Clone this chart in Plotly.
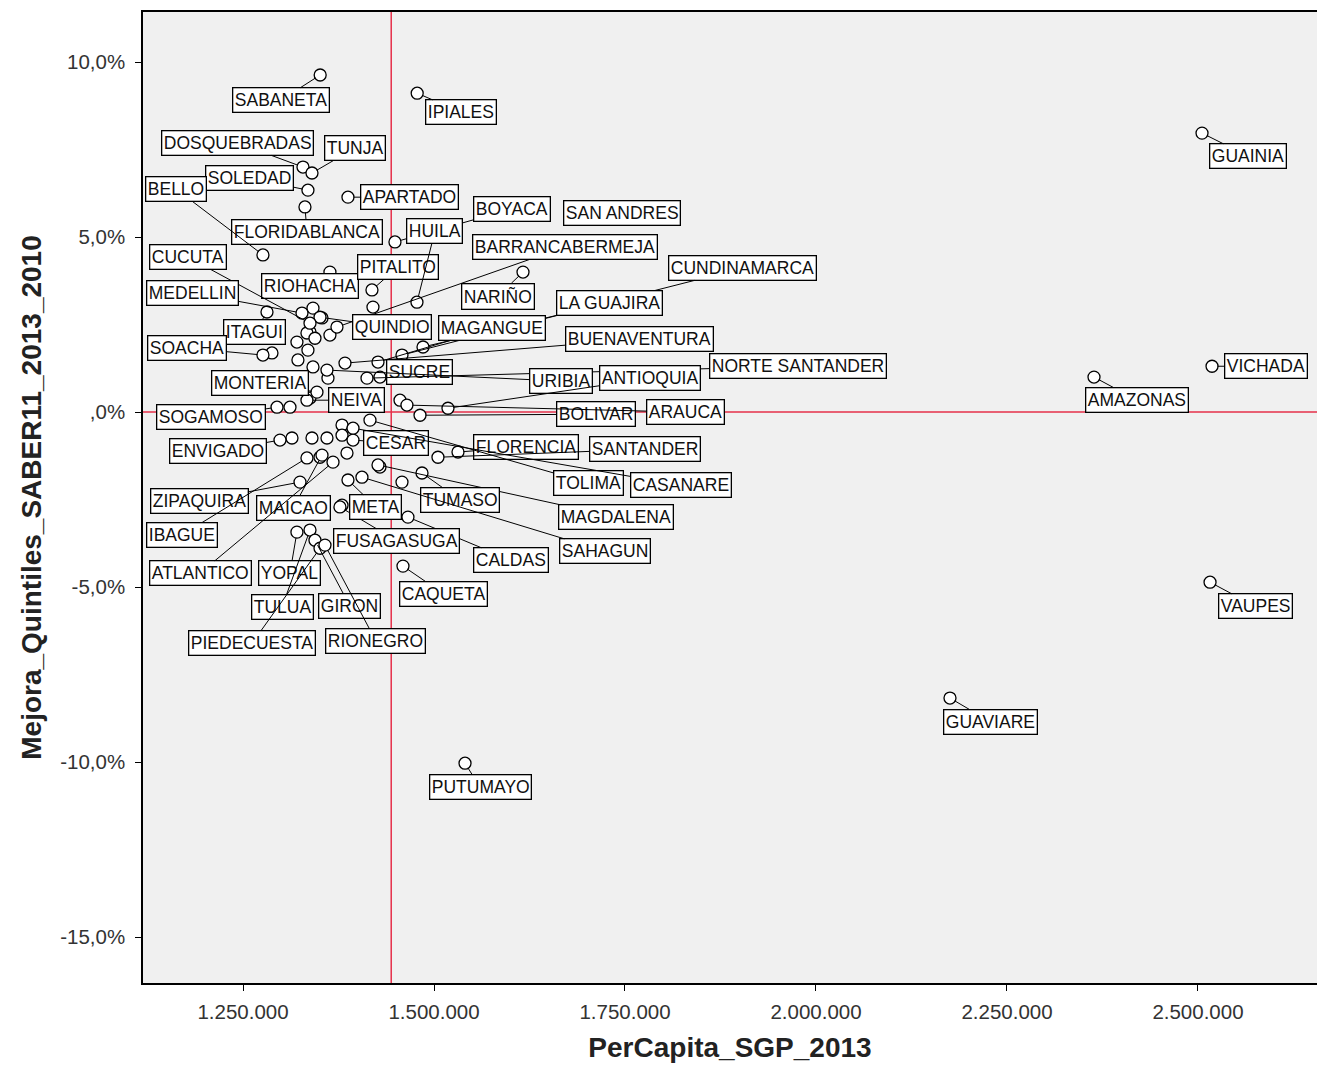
import plotly.graph_objects as go

# ---------------- data ----------------
names = ["SABANETA", "IPIALES", "DOSQUEBRADAS", "TUNJA", "SOLEDAD", "FLORIDABLANCA",
         "APARTADO", "BOYACA", "BELLO", "RIOHACHA", "PITALITO", "HUILA", "NARIÑO",
         "SAN ANDRES", "BARRANCABERMEJA", "CUNDINAMARCA", "LA GUAJIRA", "MAGANGUE",
         "QUINDIO", "ITAGUI", "CUCUTA", "MEDELLIN", "SOACHA", "BUENAVENTURA", "SUCRE",
         "NORTE SANTANDER", "URIBIA", "MONTERIA", "NEIVA", "ANTIOQUIA", "BOLIVAR",
         "ARAUCA", "SOGAMOSO", "ENVIGADO", "CESAR", "FLORENCIA", "SANTANDER", "TOLIMA",
         "CASANARE", "MAGDALENA", "TUMASO", "SAHAGUN", "CALDAS", "CAQUETA",
         "FUSAGASUGA", "META", "MAICAO", "ZIPAQUIRA", "IBAGUE", "ATLANTICO", "YOPAL",
         "TULUA", "GIRON", "PIEDECUESTA", "RIONEGRO", "PUTUMAYO", "GUAINIA", "VICHADA",
         "AMAZONAS", "VAUPES", "GUAVIARE"]

per_capita = [1351000, 1478000, 1328500, 1340300, 1335000, 1331100,
              1387400, 1448900, 1276100, 1363800, 1418800, 1477700, 1616500,
              1717300, 1373000, 1458100, 1485600, 1426700,
              1350800, 1281400, 1337700, 1327200, 1276100, 1383500, 1429300,
              1412300, 1359900, 1346800, 1333700, 1518300, 1481700,
              1464600, 1294500, 1298400, 1394000, 1531400, 1505200, 1416200,
              1394000, 1426700, 1484300, 1405700, 1465900, 1459400,
              1376900, 1387400, 1353400, 1324600, 1333700, 1367800, 1320600,
              1337700, 1344200, 1350800, 1357300, 1540600, 2505300, 2518400,
              2363900, 2515800, 2175400]

mejora = [9.63, 9.11, 7.00, 6.83, 6.34, 5.86,
          6.14, 4.86, 4.49, 4.00, 3.49, 3.14, 4.00,
          5.66, 2.43, 1.63, 1.86, 1.43,
          2.71, 2.86, 2.54, 2.83, 1.63, 1.40, 1.00,
          0.97, 1.20, 0.57, 0.34, 0.11, -0.09,
          0.20, 0.14, -0.80, -0.80, -1.14, -1.29, -0.23,
          -0.46, -1.51, -1.74, -1.86, -3.00, -4.40,
          -2.71, -1.94, -1.23, -2.00, -1.31, -1.43, -3.43,
          -3.37, -3.66, -3.89, -3.80, -10.03, 7.97, 1.31,
          1.00, -4.86, -8.17]

# unlabeled points of the dense cluster
extra_per_capita = [1341600, 1353400, 1337700, 1363800, 1333700, 1344200, 1320600,
                    1335000, 1321900, 1341600, 1361200, 1420100, 1337700, 1287900,
                    1311500, 1455500, 1379600, 1314100, 1340300, 1359900, 1379600,
                    1386100, 1350800, 1458100, 1379600, 1429300]
extra_mejora = [2.97, 2.69, 2.29, 2.20, 2.26, 2.11, 2.00,
                1.77, 1.49, 1.29, 0.97, 3.00, 0.40, 1.69,
                0.14, 0.34, -0.37, -0.74, -0.74, -0.74, -0.66,
                -1.17, -1.29, -2.00, -2.66, -1.57]

mean_per_capita = 1444000
mean_mejora = 0.0

x_tickvals = [1250000, 1500000, 1750000, 2000000, 2250000, 2500000]
y_tickvals = [-15, -10, -5, 0, 5, 10]
y_ticktext = ["-15,0%", "-10,0%", "-5,0%", ",0%", "5,0%", "10,0%"]

x_title = "PerCapita_SGP_2013"
y_title = "Mejora_Quintiles_SABER11_2013_2010"

# ---------------- label placement (pixel offsets from each point) ----------------
label_dx = [-39, 44, -65, 43, -58, 2,
            62, 117, -87, -20, 26, 18, -25,
            22, 228, 341, 186, 114,
            72, -12, -122, -109, -76, 295, 40,
            431, 234, -57, 50, 202, 176,
            279, -66, -62, 43, 68, 207, 219,
            328, 238, 38, 243, 103, 41,
            57, 28, -29, -101, -125, -133, -7,
            -28, 35, -68, 51, 15, 46, 54,
            43, 45, 41]
label_dy = [25, 19, -24, -25, -12, 25,
            0, -33, -66, 14, -23, -71, 24,
            -1, -80, -87, -44, -34,
            10, 20, -66, -20, -7, -24, -5,
            -12, 11, -9, 0, -30, -1,
            7, 10, 11, 3, -5, -8, 63,
            57, 52, 27, 74, 43, 28,
            34, 27, 53, 19, 77, 111, 41,
            77, 66, 95, 96, 24, 23, 0,
            23, 24, 24]

X_RANGE = [1119100, 2655800]
Y_RANGE = [-16.31, 11.43]

fig = go.Figure()

marker_style = dict(size=12, color="white", line=dict(color="black", width=1.3))

fig.add_trace(go.Scatter(x=extra_per_capita, y=extra_mejora, mode="markers",
                         marker=marker_style, hoverinfo="skip", showlegend=False))
fig.add_trace(go.Scatter(x=per_capita, y=mejora, mode="markers", text=names,
                         marker=marker_style, showlegend=False))

# reference lines
fig.add_shape(type="line", xref="x", yref="paper", x0=mean_per_capita, x1=mean_per_capita,
              y0=0, y1=1, line=dict(color="#E6304A", width=1.5), layer="below")
fig.add_shape(type="line", xref="paper", yref="y", x0=0, x1=1, y0=mean_mejora,
              y1=mean_mejora, line=dict(color="#E6304A", width=1.5), layer="below")

for n, xv, yv, dx, dy in zip(names, per_capita, mejora, label_dx, label_dy):
    fig.add_annotation(x=xv, y=yv, xref="x", yref="y", text=n,
                       showarrow=True, arrowhead=0, arrowwidth=1, arrowcolor="black",
                       ax=dx, ay=dy, standoff=5.5,
                       font=dict(family="Liberation Sans, Arial", size=17.5, color="#111"),
                       bgcolor="white", bordercolor="black", borderwidth=1.3, borderpad=1.5)

fig.update_layout(
    width=1309, height=1055,
    margin=dict(l=135, r=0, t=4, b=80),
    paper_bgcolor="white", plot_bgcolor="#F0F0F0",
    separators=",.",
    font=dict(family="Liberation Sans, Arial", color="#333"),
    xaxis=dict(range=X_RANGE, tickvals=x_tickvals, tickformat=",.0f",
               showgrid=False, zeroline=False, showline=True, linecolor="black",
               linewidth=1.5, mirror=True, ticks="outside", ticklen=6, tickcolor="black",
               ticklabelstandoff=4,
               tickfont=dict(size=20.5, color="#333"),
               title=dict(text="<b>" + x_title + "</b>", font=dict(size=28, color="#222"),
                          standoff=20)),
    yaxis=dict(range=Y_RANGE, tickvals=y_tickvals, ticktext=y_ticktext,
               showgrid=False, zeroline=False, showline=True, linecolor="black",
               linewidth=1.5, mirror=False, ticks="outside", ticklen=6, tickcolor="black",
               ticklabelstandoff=6,
               tickfont=dict(size=20.5, color="#333"),
               title=dict(text="<b>" + y_title + "</b>", font=dict(size=28, color="#222"),
                          standoff=10)),
)

fig.write_html("out.html")
